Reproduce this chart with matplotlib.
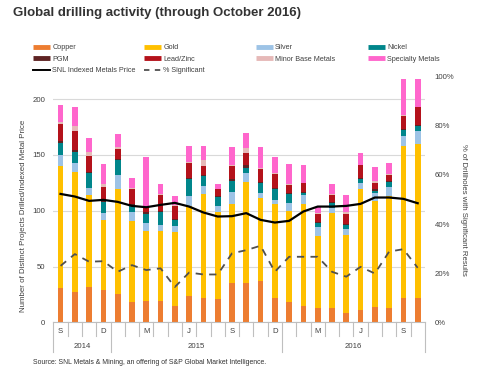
import numpy as np
import matplotlib
matplotlib.use('Agg')
import matplotlib.pyplot as plt
import matplotlib.transforms as mtransforms
from matplotlib.lines import Line2D

plt.rcParams['font.family'] = ['Liberation Sans', 'DejaVu Sans']

# Sept 2014 .. Oct 2016
months = ['S', 'O', 'N', 'D', 'J', 'F', 'M', 'A', 'M', 'J', 'J', 'A', 'S',
          'O', 'N', 'D', 'J', 'F', 'M', 'A', 'M', 'J', 'J', 'A', 'S', 'O']
years = ['2014', '2015', '2016']
year_first = [0, 4, 16]
year_last = [3, 15, 25]

copper = [31, 27, 32, 29, 25, 18, 19, 19, 15, 24, 22, 21, 35, 35, 37, 22, 18, 15, 13, 13, 8, 11, 14, 13, 22, 22]
gold = [109, 108, 82, 63, 94, 73, 63, 63, 66, 80, 93, 78, 71, 91, 74, 84, 82, 91, 64, 85, 70, 108, 95, 100, 136, 138]
silver = [10, 8, 6, 6, 13, 8, 7, 5, 5, 9, 7, 5, 11, 8, 5, 4, 7, 8, 8, 4, 6, 6, 7, 8, 9, 11]
nickel = [11, 10, 14, 10, 13, 6, 8, 12, 6, 15, 9, 8, 10, 4, 9, 9, 8, 2, 4, 5, 3, 3, 2, 5, 5, 5]
pgm = [1, 1, 1, 1, 1, 1, 2, 1, 1, 1, 1, 1, 1, 3, 1, 1, 1, 1, 1, 1, 1, 1, 1, 1, 1, 1]
lead_zinc = [16, 17, 14, 12, 9, 13, 3, 14, 11, 14, 8, 6, 12, 11, 11, 13, 7, 8, 7, 6, 9, 12, 6, 5, 12, 16]
minor_base = [1, 5, 4, 3, 2, 1, 0, 1, 1, 1, 5, 0, 1, 4, 1, 1, 1, 0, 1, 1, 2, 0, 2, 1, 1, 0]
specialty = [16, 17, 12, 18, 12, 9, 46, 9, 8, 14, 13, 5, 16, 14, 19, 14, 18, 16, 5, 9, 15, 11, 12, 10, 32, 25]

metals_price = [115, 112.7, 108.8, 109.7, 107.9, 104.3, 103.1, 105.2, 107, 103.7, 98.4, 94.8, 95.1,
                97.8, 91.8, 89.4, 90.9, 99.3, 103.7, 103.7, 104.3, 106.1, 111.8, 111.8, 110.6, 106.7]
pct_significant = [23.0, 27.8, 24.7, 24.9, 20.6, 23.3, 21.3, 22.0, 14.4, 20.3, 19.5, 19.5, 28.1,
                   29.4, 31.2, 20.6, 26.7, 26.7, 26.7, 20.6, 18.6, 22.6, 19.9, 28.8, 29.8, 22.2]

names = ['Copper', 'Gold', 'Silver', 'Nickel', 'PGM', 'Lead/Zinc', 'Minor Base Metals', 'Specialty Metals']
colors = ['#ED7D31', '#FFC000', '#9DC3E6', '#00868B', '#5E2323', '#B4121B', '#E6B9B8', '#FF66CC']
stack = [copper, gold, silver, nickel, pgm, lead_zinc, minor_base, specialty]

txt = '#404040'
grid = '#d9d9d9'
axis_col = '#bfbfbf'

fig = plt.figure(figsize=(4.9, 3.74), dpi=100)
ax = fig.add_axes([0.109, 0.138, 0.758, 0.657])

x = np.arange(len(months))
bottom = np.zeros(len(months))
for vals, col in zip(stack, colors):
    ax.bar(x, vals, 0.4, bottom=bottom, color=col, linewidth=0, zorder=2)
    bottom += np.array(vals)

ax.plot(x, metals_price, color='black', lw=1.6, zorder=3)

ax.set_xlim(-0.5, 25.5)
ax.set_ylim(0, 220)
ax.set_yticks([0, 50, 100, 150, 200])
ax.set_xticks([])
ax.grid(axis='y', color=grid, lw=0.8)
ax.set_axisbelow(True)
for s in ['left', 'right', 'top']:
    ax.spines[s].set_visible(False)
ax.spines['bottom'].set_color(axis_col)
ax.spines['bottom'].set_linewidth(0.8)
ax.tick_params(axis='y', length=0, labelsize=5.6, colors=txt, pad=6)

ax2 = ax.twinx()
ax2.plot(x, pct_significant, color='#505050', lw=1.3, dashes=(4, 3.5))
ax2.set_ylim(0, 100)
ax2.set_yticks(range(0, 101, 20))
ax2.set_yticklabels([f'{v}%' for v in range(0, 101, 20)])
for s in ax2.spines.values():
    s.set_visible(False)
ax2.tick_params(axis='y', length=0, labelsize=5.6, colors=txt, pad=7)

# two-level category axis
trans = mtransforms.blended_transform_factory(ax.transData, ax.transAxes)
long_ticks = [f - 0.5 for f in year_first] + [year_last[-1] + 0.5]
for b in np.arange(-0.5, len(months)):
    depth = -0.12 if b in long_ticks else -0.057
    ax.plot([b, b], [0, depth], transform=trans, color=axis_col, lw=0.8, clip_on=False)
for i, m in enumerate(months):
    if i % 3 == 0:
        ax.text(i, -0.036, m, transform=trans, ha='center', va='center', fontsize=5.6, color=txt)
for y, a, b in zip(years, year_first, year_last):
    ax.text((a + b) / 2, -0.1, y, transform=trans, ha='center', va='center', fontsize=5.6, color=txt)

fig.text(24 / 490, 0.424, 'Number of Distinct Projects Drilled/Indexed Metal Price',
         rotation=90, ha='center', va='center', fontsize=5.7, color=txt)
fig.text(463 / 490, 0.438, '% of Drillholes with Significant Results',
         rotation=270, ha='center', va='center', fontsize=5.6, color=txt)

fig.text(13 / 490, 0.966, 'Global drilling activity (through October 2016)',
         fontsize=9.5, fontweight='bold', color='#333333', va='center')
fig.text(33 / 490, 1 - 362 / 374, 'Source: SNL Metals & Mining, an offering of S&P Global Market Intelligence.',
         fontsize=4.95, color='#333333', va='center')

# legend, row-major like the original, built column by column
bar_handles = [Line2D([], [], color=c, lw=3.5, solid_capstyle='butt') for c in colors]
price_handle = Line2D([], [], color='black', lw=1.4)
pct_handle = Line2D([], [], color='#505050', lw=1.3, dashes=(3, 3))
columns = [
    ([bar_handles[0], bar_handles[4], price_handle], [names[0], names[4], 'SNL Indexed Metals Price']),
    ([bar_handles[1], bar_handles[5], pct_handle], [names[1], names[5], '% Significant']),
    ([bar_handles[2], bar_handles[6]], [names[2], names[6]]),
    ([bar_handles[3], bar_handles[7]], [names[3], names[7]]),
]
col_x = [33, 144, 256, 368]
for (h, l), cx in zip(columns, col_x):
    fig.legend(h, l, loc='upper left', bbox_to_anchor=(cx / 490, 1 - 44 / 374),
               frameon=False, fontsize=5.2, handlelength=2.3, handletextpad=0.35,
               labelspacing=0.62, borderpad=0, borderaxespad=0, labelcolor=txt)

fig.savefig('out.png', dpi=100)
